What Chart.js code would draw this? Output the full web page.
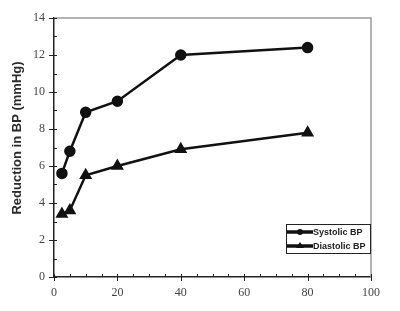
<!DOCTYPE html>
<html>
<head>
<meta charset="utf-8">
<script src="https://cdn.jsdelivr.net/npm/chart.js@4.4.0/dist/chart.umd.min.js"></script>
<style>
  html, body { margin: 0; padding: 0; background: #fff; }
  #wrap { width: 400px; height: 311px; }
</style>
</head>
<body>
<div id="wrap"><canvas id="bp-chart"></canvas></div>
<script>
// Dose (x) and BP reduction values
const doses = [2.5, 5, 10, 20, 40, 80];
const systolic = [5.6, 6.8, 8.9, 9.5, 12.0, 12.4];
const diastolic = [3.4, 3.6, 5.5, 6.0, 6.9, 7.8];
const seriesNames = ['Systolic BP', 'Diastolic BP'];
const yTitle = 'Reduction in BP (mmHg)';

const toPoints = (vals) => doses.map((d, i) => ({ x: d, y: vals[i] }));

// ticks (major crossing, minor inward), gray frame, y title, boxed legend
const framePlugin = {
    id: 'frame',
    afterDraw(chart) {
        const ctx = chart.ctx;
        const { left, right, top, bottom } = chart.chartArea;
        const xs = chart.scales.x;
        const ys = chart.scales.y;

        ctx.save();
        ctx.strokeStyle = '#9a9a9a';
        ctx.lineWidth = 1.5;
        ctx.beginPath();
        ctx.moveTo(left, top);
        ctx.lineTo(right, top);
        ctx.lineTo(right, bottom);
        ctx.stroke();

        ctx.strokeStyle = '#222';
        ctx.lineWidth = 1;
        ctx.beginPath();
        for (let v = 0; v <= 100; v += 5) {
            const px = Math.round(xs.getPixelForValue(v)) + 0.5;
            const major = v % 20 === 0;
            ctx.moveTo(px, major ? bottom + 4 : bottom);
            ctx.lineTo(px, bottom - 3);
        }
        for (let v = 0; v <= 14; v += 1) {
            const py = Math.round(ys.getPixelForValue(v)) + 0.5;
            const major = v % 2 === 0;
            ctx.moveTo(major ? left - 5 : left, py);
            ctx.lineTo(left + 3, py);
        }
        ctx.stroke();

        // y axis title
        ctx.save();
        ctx.translate(17, 138);
        ctx.rotate(-Math.PI / 2);
        ctx.fillStyle = '#2a2a2a';
        ctx.font = 'bold 13px "Liberation Sans", Arial, sans-serif';
        ctx.textAlign = 'center';
        ctx.textBaseline = 'middle';
        ctx.fillText(yTitle, 0, 0);
        ctx.restore();

        // legend box
        const bx = 286, by = 224, bw = 84, bh = 29;
        ctx.fillStyle = '#fff';
        ctx.fillRect(bx, by, bw, bh);
        ctx.strokeStyle = '#222';
        ctx.lineWidth = 1;
        ctx.strokeRect(bx + 0.5, by + 0.5, bw, bh);
        ctx.font = 'bold 9px "Liberation Sans", Arial, sans-serif';
        ctx.textBaseline = 'middle';
        chart.data.datasets.forEach((ds, i) => {
            const ly = by + 8 + i * 14;
            ctx.strokeStyle = '#111';
            ctx.lineWidth = 3.5;
            ctx.beginPath();
            ctx.moveTo(bx + 1, ly);
            ctx.lineTo(bx + 27, ly);
            ctx.stroke();
            ctx.fillStyle = '#111';
            ctx.beginPath();
            if (ds.pointStyle === 'triangle') {
                ctx.moveTo(bx + 14, ly - 4);
                ctx.lineTo(bx + 18, ly + 2);
                ctx.lineTo(bx + 10, ly + 2);
                ctx.closePath();
            } else {
                ctx.arc(bx + 14, ly, 3, 0, Math.PI * 2);
            }
            ctx.fill();
            ctx.fillStyle = '#222';
            ctx.fillText(ds.label, bx + 27, ly + 1);
        });
        ctx.restore();
    }
};

const tickFont = { family: '"Liberation Serif", "Times New Roman", serif', size: 12 };

new Chart(document.getElementById('bp-chart'), {
    type: 'scatter',
    data: {
        datasets: [
            {
                label: seriesNames[0],
                data: toPoints(systolic),
                showLine: true,
                borderColor: '#111',
                backgroundColor: '#111',
                borderWidth: 2.5,
                pointStyle: 'circle',
                pointRadius: 4.5,
                pointHoverRadius: 4.5
            },
            {
                label: seriesNames[1],
                data: toPoints(diastolic),
                showLine: true,
                borderColor: '#111',
                backgroundColor: '#111',
                borderWidth: 2.5,
                pointStyle: 'triangle',
                pointRadius: 5,
                pointHoverRadius: 5
            }
        ]
    },
    options: {
        responsive: true,
        maintainAspectRatio: false,
        animation: false,
        layout: { padding: { top: 18, right: 29, left: 0, bottom: 0 } },
        plugins: {
            legend: { display: false },
            tooltip: { enabled: false }
        },
        scales: {
            x: {
                type: 'linear',
                min: 0,
                max: 100,
                afterFit: (scale) => { scale.height = 34; },
                ticks: { stepSize: 20, color: '#444', font: tickFont, padding: 9 },
                grid: { drawOnChartArea: false, drawTicks: false },
                border: { color: '#222', width: 1.5 }
            },
            y: {
                min: 0,
                max: 14,
                afterFit: (scale) => { scale.width = 54; },
                ticks: { stepSize: 2, color: '#444', font: tickFont, padding: 9 },
                grid: { drawOnChartArea: false, drawTicks: false },
                border: { color: '#222', width: 1.5 }
            }
        }
    },
    plugins: [framePlugin]
});
</script>
</body>
</html>
